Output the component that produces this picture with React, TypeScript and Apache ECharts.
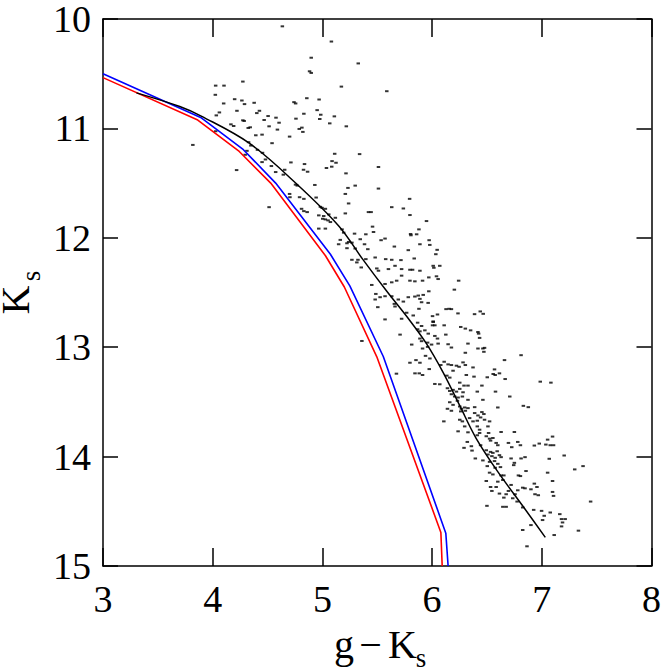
import { useEffect, useRef } from "react";
import * as echarts from "echarts";

// ---- axes ----
const xRange = [3, 8];
const yRange = [10, 15];
const tickStep = 1;

// ---- red model (polyline) ----
const redColor = [3.0, 3.864, 4.242, 4.529, 5.028, 5.2, 5.496, 6.08, 6.092];
const redMag = [10.536, 10.924, 11.211, 11.5, 12.164, 12.45, 13.088, 14.693, 15.0];

// ---- blue model (polyline) ----
const blueColor = [3.0, 3.89, 4.28, 4.574, 5.073, 5.25, 5.555, 6.125, 6.146];
const blueMag = [10.5, 10.9, 11.195, 11.5, 12.15, 12.44, 13.085, 14.7, 15.0];

// ---- black fitted isochrone ----
const blackColor = [3.305, 3.7, 3.9, 4.333, 4.756, 5.149, 5.37, 5.58, 5.8, 5.95, 6.1, 6.25, 6.4, 6.6, 6.84, 7.032];
const blackMag = [10.675, 10.8, 10.89, 11.135, 11.499, 11.892, 12.2, 12.48, 12.76, 12.97, 13.23, 13.53, 13.83, 14.14, 14.47, 14.738];

// ---- stars (g-Ks, Ks) ----
const stars: [number, number][] = [
  [4.635, 10.067], [5.082, 10.206], [4.898, 10.354], [5.327, 10.406], [4.883, 10.478], [4.898, 10.493],
  [4.275, 10.572], [4.027, 10.609], [4.103, 10.609], [5.173, 10.618], [5.587, 10.66], [4.024, 10.693],
  [4.2, 10.733], [4.266, 10.745], [4.29, 10.778], [4.1, 10.772], [4.378, 10.766], [4.741, 10.76],
  [4.756, 10.772], [4.858, 10.724], [4.97, 10.736], [4.061, 10.854], [4.033, 10.881], [4.221, 10.839],
  [4.402, 10.86], [4.426, 10.839], [4.952, 10.833], [4.831, 10.866], [4.985, 10.875], [5.109, 10.89],
  [4.577, 10.902], [4.505, 10.887], [4.469, 10.923], [4.759, 10.911], [4.976, 10.914], [4.275, 10.926],
  [4.287, 10.932], [4.166, 10.963], [4.191, 10.978], [4.605, 10.948], [5.067, 10.954], [4.324, 10.996],
  [4.342, 10.99], [4.514, 10.981], [4.59, 11.011], [4.789, 11.005], [4.813, 10.993], [4.822, 11.032],
  [5.218, 10.981], [4.027, 11.026], [4.393, 11.063], [4.45, 11.057], [4.701, 11.075], [4.541, 11.135],
  [4.327, 11.126], [4.348, 11.157], [4.408, 11.196], [4.454, 11.223], [4.312, 11.205], [4.296, 11.241],
  [5.112, 11.232], [5.339, 11.235], [4.481, 11.284], [4.45, 11.308], [4.713, 11.311], [4.837, 11.326],
  [5.088, 11.299], [5.124, 11.314], [4.535, 11.344], [4.218, 11.381], [4.656, 11.378], [4.574, 11.399],
  [4.828, 11.378], [4.865, 11.396], [5.037, 11.362], [5.085, 11.35], [5.215, 11.411], [5.511, 11.353],
  [4.644, 11.423], [3.819, 11.151],
  [4.755, 11.514], [4.771, 11.523], [4.931, 11.517], [5.233, 11.544], [5.299, 11.523], [5.511, 11.55],
  [4.701, 11.599], [4.704, 11.629], [4.792, 11.629], [4.831, 11.644], [4.943, 11.632], [5.209, 11.599],
  [4.514, 11.72], [4.81, 11.735], [4.831, 11.756], [4.861, 11.765], [4.982, 11.717], [4.997, 11.726],
  [5.027, 11.735], [5.239, 11.686], [5.632, 11.72], [5.738, 11.732], [5.795, 11.644], [4.967, 11.795],
  [5.012, 11.801], [5.058, 11.786], [5.209, 11.777], [5.42, 11.765], [5.444, 11.765], [5.798, 11.792],
  [5.003, 11.826], [5.027, 11.832], [5.052, 11.841], [5.073, 11.856], [5.118, 11.817], [4.967, 11.916],
  [5.027, 11.916], [5.457, 11.898], [5.466, 11.947], [5.293, 11.962], [5.396, 11.968], [5.179, 11.923],
  [5.194, 11.953], [5.804, 11.965], [5.807, 11.977], [5.859, 11.968], [5.88, 11.923], [5.163, 12.019],
  [5.148, 12.059], [5.224, 12.05], [5.239, 12.038], [5.269, 12.044], [5.345, 12.013], [5.384, 12.059],
  [5.535, 12.022], [5.571, 12.007], [5.889, 12.059], [5.224, 12.095], [5.299, 12.098], [5.414, 12.104],
  [5.656, 12.08], [5.783, 12.113], [5.481, 12.18], [5.269, 12.201], [5.324, 12.201], [5.396, 12.195],
  [5.577, 12.195], [5.632, 12.201], [5.716, 12.204], [5.837, 12.189], [5.314, 12.225], [5.354, 12.271],
  [5.496, 12.28], [5.511, 12.301], [5.602, 12.286], [5.662, 12.256], [5.722, 12.286], [5.798, 12.292],
  [5.822, 12.292], [5.889, 12.301], [5.722, 12.346], [5.45, 12.431], [5.571, 12.422], [5.632, 12.407],
  [5.677, 12.392], [5.798, 12.392], [5.843, 12.398], [5.913, 12.392], [5.487, 12.513], [5.526, 12.543],
  [5.571, 12.534], [5.632, 12.534], [5.692, 12.564], [5.783, 12.543], [5.843, 12.537], [5.874, 12.528],
  [5.919, 12.522], [5.481, 12.564], [5.505, 12.634], [5.656, 12.604], [5.662, 12.628], [5.738, 12.583],
  [5.889, 12.558], [5.904, 12.589], [5.88, 12.649], [5.768, 12.685], [5.828, 12.71], [5.571, 12.746],
  [5.722, 12.74],
  [5.949, 11.847], [5.973, 12.022], [5.979, 12.065], [6.046, 12.11], [6.034, 12.15], [6.01, 12.256],
  [6.016, 12.274], [6.07, 12.256], [6.04, 12.352], [6.055, 12.377], [5.97, 12.362], [6.242, 12.392],
  [6.203, 12.474], [5.97, 12.489], [5.964, 12.595], [6.049, 12.701], [6.004, 12.716], [6.127, 12.652],
  [6.155, 12.649], [6.176, 12.652], [6.236, 12.691], [6.387, 12.698], [6.439, 12.673], [6.466, 12.695],
  [6.01, 12.764], [5.36, 12.943],
  [6.01, 12.77], [6.025, 12.8], [6.004, 12.8], [6.11, 12.8], [5.868, 12.776], [5.904, 12.806],
  [6.261, 12.815], [6.303, 12.83], [6.351, 12.846], [6.418, 12.861], [6.424, 12.876], [5.868, 12.836],
  [5.889, 12.855], [5.934, 12.846], [5.708, 12.885], [5.965, 12.876], [6.025, 12.897], [6.049, 12.921],
  [6.125, 12.885], [6.433, 12.915], [5.889, 12.921], [5.904, 12.945], [5.959, 12.958], [5.995, 12.976],
  [6.055, 12.967], [5.814, 12.976], [6.146, 12.973], [6.176, 13.003], [6.327, 12.967], [5.913, 13.012],
  [5.959, 12.997], [6.418, 13.012], [6.463, 13.012], [6.478, 13.006], [6.303, 13.051], [6.472, 13.042],
  [6.811, 13.073], [5.94, 13.079], [5.98, 13.103], [6.66, 13.118], [5.798, 13.142], [5.853, 13.118],
  [5.889, 13.142], [6.11, 13.133], [6.079, 13.163], [6.146, 13.157], [6.176, 13.163], [6.222, 13.169],
  [6.246, 13.179], [6.282, 13.139], [6.303, 13.163], [6.373, 13.185], [5.974, 13.2], [6.191, 13.215],
  [6.569, 13.203], [5.675, 13.242], [5.844, 13.239], [5.883, 13.239], [5.913, 13.254], [6.134, 13.26],
  [6.161, 13.278], [6.312, 13.254], [6.382, 13.269], [6.503, 13.275], [6.557, 13.245], [6.575, 13.254],
  [6.614, 13.239], [6.666, 13.291], [6.025, 13.336], [6.07, 13.339], [6.252, 13.324], [6.291, 13.351],
  [6.327, 13.351], [6.454, 13.351], [6.986, 13.315], [7.083, 13.324], [6.14, 13.375], [6.161, 13.4],
  [6.191, 13.39], [6.222, 13.406], [6.252, 13.381], [6.282, 13.412], [6.412, 13.406], [6.578, 13.406],
  [6.176, 13.43], [6.206, 13.451], [6.237, 13.46], [6.276, 13.451], [6.327, 13.481], [6.231, 13.49],
  [6.161, 13.503], [6.708, 13.451], [6.463, 13.481], [6.191, 13.527], [6.252, 13.542], [6.267, 13.563],
  [6.297, 13.551], [6.327, 13.557], [6.14, 13.563], [6.176, 13.581], [6.388, 13.548], [6.599, 13.551],
  [6.832, 13.536], [6.877, 13.548], [6.261, 13.587], [6.303, 13.581], [6.388, 13.602], [6.454, 13.593],
  [6.472, 13.611], [6.418, 13.624], [6.442, 13.642], [6.342, 13.648], [6.373, 13.678], [6.412, 13.672],
  [6.478, 13.663], [6.524, 13.678], [6.252, 13.663], [6.276, 13.678], [6.107, 13.678], [6.297, 13.724],
  [6.412, 13.724], [6.433, 13.754], [6.509, 13.724],
  [6.237, 13.769], [6.327, 13.778], [6.433, 13.784], [6.515, 13.784], [6.629, 13.775], [6.75, 13.775],
  [6.412, 13.805], [6.494, 13.814], [6.524, 13.836], [6.554, 13.83], [6.321, 13.866], [6.358, 13.905],
  [6.291, 13.92], [6.442, 13.896], [6.533, 13.854], [6.584, 13.875], [6.599, 13.896], [6.696, 13.875],
  [6.726, 13.914], [6.781, 13.866], [6.805, 13.896], [6.932, 13.899], [6.977, 13.881], [7.037, 13.89],
  [7.077, 13.896], [7.107, 13.896], [7.053, 13.845], [7.098, 13.817], [6.364, 13.945], [6.494, 13.942],
  [6.533, 13.957], [6.554, 13.966], [6.593, 13.951], [6.614, 13.987], [6.545, 13.996], [6.575, 14.011],
  [6.629, 14.005], [6.394, 14.017], [6.463, 14.035], [6.509, 13.981], [6.524, 14.048], [6.569, 14.041],
  [6.599, 14.066], [6.623, 14.096], [6.72, 14.017], [6.75, 14.057], [6.744, 14.078], [6.811, 14.017],
  [6.847, 14.005], [7.068, 14.02], [7.204, 13.99], [6.503, 14.087], [6.575, 14.102], [6.524, 14.147],
  [6.554, 14.163], [6.629, 14.172], [6.654, 14.172], [6.787, 14.172], [6.805, 14.178], [6.856, 14.132],
  [7.053, 14.147], [7.3, 14.117], [7.376, 14.087], [6.494, 14.223], [6.599, 14.229], [6.645, 14.214],
  [6.72, 14.259], [6.533, 14.278], [6.584, 14.278], [6.781, 14.308], [6.826, 14.284], [6.847, 14.29],
  [6.932, 14.247], [6.956, 14.278], [6.545, 14.314], [6.614, 14.338], [6.675, 14.344], [6.696, 14.314],
  [6.756, 14.344], [6.901, 14.299], [6.938, 14.344], [6.968, 14.353], [7.098, 14.223], [7.098, 14.323],
  [7.107, 14.359], [6.654, 14.375], [6.735, 14.381], [6.775, 14.411], [7.445, 14.411], [6.5, 14.45],
  [6.645, 14.459], [6.675, 14.459], [6.826, 14.465], [6.926, 14.487], [6.998, 14.496], [7.022, 14.541],
  [7.077, 14.511], [7.007, 14.58], [7.164, 14.526], [7.18, 14.571], [7.213, 14.571], [7.189, 14.602],
  [6.901, 14.626], [6.826, 14.671], [7.18, 14.638], [7.334, 14.677], [7.113, 14.717], [6.865, 14.82],
];

const FONT = '"Liberation Serif", "DejaVu Serif", serif';

function zip(xs: number[], ys: number[]) {
  return xs.map((x, i) => [x, ys[i]]);
}

function buildOption(): any {
  const axisLine = { show: true, lineStyle: { color: "#000", width: 1.5 } };
  const xTick = { show: true, inside: true, length: 18, lineStyle: { color: "#000", width: 1.5 } };
  const yTick = { show: true, inside: true, length: 15, lineStyle: { color: "#000", width: 1.5 } };
  const label = {
    color: "#000",
    fontFamily: FONT,
    fontSize: 38,
    lineHeight: 30,
    showMinLabel: true,
    showMaxLabel: true,
  };
  return {
    animation: false,
    backgroundColor: "#fff",
    grid: { left: 103, right: 9, top: 15, bottom: 106, containLabel: false },
    xAxis: [
      {
        type: "value", position: "bottom", min: xRange[0], max: xRange[1], interval: tickStep,
        axisLine, axisTick: xTick, splitLine: { show: false },
        axisLabel: { ...label, margin: 18 },
      },
      {
        type: "value", position: "top", min: xRange[0], max: xRange[1], interval: tickStep,
        axisLine, axisTick: xTick, splitLine: { show: false }, axisLabel: { show: false },
      },
    ],
    yAxis: [
      {
        type: "value", position: "left", inverse: true, min: yRange[0], max: yRange[1], interval: tickStep,
        axisLine, axisTick: yTick, splitLine: { show: false },
        axisLabel: { ...label, margin: 12 },
      },
      {
        type: "value", position: "right", inverse: true, min: yRange[0], max: yRange[1], interval: tickStep,
        axisLine, axisTick: yTick, splitLine: { show: false }, axisLabel: { show: false },
      },
    ],
    series: [
      {
        type: "scatter", xAxisIndex: 0, yAxisIndex: 0, data: stars,
        symbol: "rect", symbolSize: [3.5, 2], itemStyle: { color: "#000" }, silent: true,
      },
      {
        type: "line", xAxisIndex: 0, yAxisIndex: 0, data: zip(redColor, redMag),
        showSymbol: false, symbol: "none", lineStyle: { color: "#ff0000", width: 1.6 }, silent: true,
      },
      {
        type: "line", xAxisIndex: 0, yAxisIndex: 0, data: zip(blueColor, blueMag),
        showSymbol: false, symbol: "none", lineStyle: { color: "#0000ff", width: 1.6 }, silent: true,
      },
      {
        type: "line", xAxisIndex: 0, yAxisIndex: 0, data: zip(blackColor, blackMag), smooth: 0.35,
        showSymbol: false, symbol: "none", lineStyle: { color: "#000", width: 1.5 }, silent: true,
      },
    ],
    graphic: [
      { type: "text", x: 344, y: 644, style: { text: "g", font: `40px ${FONT}`, fill: "#000", textAlign: "center", textVerticalAlign: "middle" } },
      { type: "text", x: 370.5, y: 644, style: { text: "−", font: `40px ${FONT}`, fill: "#000", textAlign: "center", textVerticalAlign: "middle" } },
      { type: "text", x: 402.5, y: 644, style: { text: "K", font: `40px ${FONT}`, fill: "#000", textAlign: "center", textVerticalAlign: "middle" } },
      { type: "text", x: 421, y: 658, style: { text: "s", font: `27px ${FONT}`, fill: "#000", textAlign: "center", textVerticalAlign: "middle" } },
      { type: "text", x: 15.5, y: 300, rotation: Math.PI / 2, style: { text: "K", font: `40px ${FONT}`, lineHeight: 28, fill: "#000", textAlign: "center", textVerticalAlign: "middle" } },
      { type: "text", x: 31, y: 276, rotation: Math.PI / 2, style: { text: "s", font: `27px ${FONT}`, lineHeight: 20, fill: "#000", textAlign: "center", textVerticalAlign: "middle" } },
    ],
  };
}

export default function App() {
  const ref = useRef<HTMLDivElement>(null);
  useEffect(() => {
    if (!ref.current) return;
    const chart = echarts.init(ref.current, null, { renderer: "svg" });
    chart.setOption(buildOption());
    return () => chart.dispose();
  }, []);
  return (
    <div
      ref={ref}
      style={{ position: "absolute", left: 0, top: 0, width: 664, height: 672, background: "#fff" }}
    />
  );
}
